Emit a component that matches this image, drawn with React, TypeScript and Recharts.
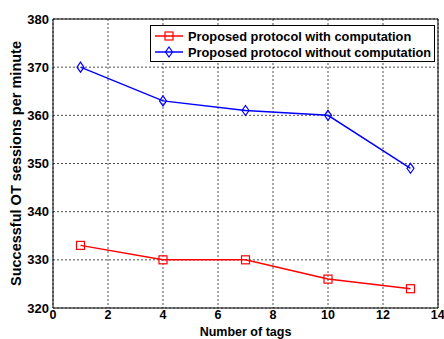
import React from "react";
import {
  LineChart,
  Line,
  XAxis,
  YAxis,
  CartesianGrid,
  Legend,
  ReferenceArea,
} from "recharts";

const tags = [1, 4, 7, 10, 13];
const withComputation = [333, 330, 330, 326, 324];
const withoutComputation = [370, 363, 361, 360, 349];
const xTicks = [0, 2, 4, 6, 8, 10, 12, 14];
const yTicks = [320, 330, 340, 350, 360, 370, 380];

const data = tags.map((t, i) => ({
  tags: t,
  withComp: withComputation[i],
  withoutComp: withoutComputation[i],
}));

const font = "'Liberation Sans', Arial, sans-serif";

const SquareDot = (props: any) => {
  const { cx, cy } = props;
  if (cx == null || cy == null) return null;
  return <rect x={cx - 4} y={cy - 4} width={8} height={8} fill="none" stroke="#ff0000" strokeWidth={1.2} />;
};

const DiamondDot = (props: any) => {
  const { cx, cy } = props;
  if (cx == null || cy == null) return null;
  return (
    <polygon
      points={`${cx},${cy - 5} ${cx + 3.5},${cy} ${cx},${cy + 5} ${cx - 3.5},${cy}`}
      fill="none"
      stroke="#0000ff"
      strokeWidth={1.2}
    />
  );
};

const legendItems = [
  { label: "Proposed protocol with computation", color: "#ff0000", marker: "square" },
  { label: "Proposed protocol without computation", color: "#0000ff", marker: "diamond" },
];

function LegendBox() {
  return (
    <div
      style={{
        position: "absolute",
        left: 150,
        top: 25,
        width: 285,
        height: 37,
        border: "1px solid #000",
        background: "#fff",
        fontFamily: font,
        fontWeight: "bold",
        fontSize: 12.8,
        color: "#000",
        boxSizing: "border-box",
      }}
    >
      {legendItems.map((it, i) => (
        <div key={i} style={{ position: "absolute", left: 3, top: 2 + i * 16, height: 16, display: "flex", alignItems: "center" }}>
          <svg width={30} height={12}>
            <line x1={1} y1={6} x2={29} y2={6} stroke={it.color} strokeWidth={1.5} />
            {it.marker === "square" ? (
              <rect x={11} y={2} width={8} height={8} fill="none" stroke={it.color} strokeWidth={1.2} />
            ) : (
              <polygon points="15,1 18.5,6 15,11 11.5,6" fill="none" stroke={it.color} strokeWidth={1.2} />
            )}
          </svg>
          <span style={{ marginLeft: 4, whiteSpace: "nowrap" }}>{it.label}</span>
        </div>
      ))}
    </div>
  );
}

export default function App() {
  return (
    <div style={{ position: "absolute", left: 0, top: 0, width: 444, height: 339, background: "#fff" }}>
      <LineChart width={444} height={339} data={data} margin={{ top: 19, right: 6, bottom: 0, left: 0 }}>
        <CartesianGrid stroke="#222" strokeDasharray="2 2" strokeWidth={0.8} />
        <ReferenceArea x1={0} x2={14} y1={320} y2={380} fill="none" stroke="#000" strokeWidth={1} ifOverflow="visible" />
        <XAxis
          dataKey="tags"
          type="number"
          domain={[0, 14]}
          ticks={xTicks}
          height={31}
          axisLine={false}
          tickLine={false}
          tickSize={0}
          tickMargin={2}
          tick={{ fill: "#000", fontSize: 12.5, fontWeight: "bold", fontFamily: font }}
          label={{ value: "Number of tags", position: "insideBottom", offset: 3, fill: "#000", fontSize: 12.5, fontWeight: "bold", fontFamily: font }}
        />
        <YAxis
          type="number"
          domain={[320, 380]}
          ticks={yTicks}
          width={53}
          axisLine={false}
          tickLine={false}
          tickSize={0}
          tickMargin={4}
          tick={{ fill: "#000", fontSize: 13, fontWeight: "bold", fontFamily: font }}
          label={{
            value: "Successful OT sessions per minute",
            angle: -90,
            position: "insideLeft",
            offset: 16,
            style: { textAnchor: "middle" },
            fill: "#000",
            fontSize: 14.5,
            fontWeight: "bold",
            fontFamily: font,
          }}
        />
        <Legend content={() => <LegendBox />} wrapperStyle={{ position: "absolute", left: 0, top: 0 }} />
        <Line
          dataKey="withComp"
          stroke="#ff0000"
          strokeWidth={1.5}
          dot={<SquareDot />}
          activeDot={false}
          isAnimationActive={false}
        />
        <Line
          dataKey="withoutComp"
          stroke="#0000ff"
          strokeWidth={1.5}
          dot={<DiamondDot />}
          activeDot={false}
          isAnimationActive={false}
        />
      </LineChart>
    </div>
  );
}
